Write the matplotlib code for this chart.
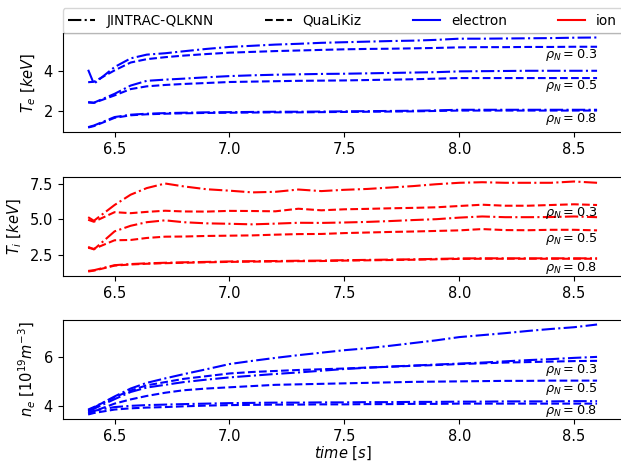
import matplotlib
matplotlib.use("Agg")
import matplotlib.pyplot as plt
from matplotlib.lines import Line2D

# ---------------- data ----------------
time = [6.385, 6.41, 6.5, 6.57, 6.64, 6.72, 6.8, 6.9, 7.0, 7.1, 7.2, 7.3, 7.4,
        7.5, 7.6, 7.7, 7.8, 7.9, 8.0, 8.1, 8.2, 8.3, 8.4, 8.5, 8.6]

rho_labels = ["0.3", "0.5", "0.8"]

# electron temperature [keV]
te_jintrac = {
    "0.3": [4.08, 3.37, 4.22, 4.66, 4.85, 4.92, 5.02, 5.14, 5.24, 5.30, 5.36, 5.40, 5.45,
            5.48, 5.51, 5.54, 5.56, 5.60, 5.66, 5.66, 5.67, 5.68, 5.69, 5.71, 5.72],
    "0.5": [2.44, 2.41, 2.86, 3.28, 3.52, 3.58, 3.63, 3.70, 3.76, 3.80, 3.83, 3.85, 3.87,
            3.88, 3.90, 3.92, 3.94, 3.96, 4.00, 4.01, 4.02, 4.03, 4.03, 4.03, 4.03],
    "0.8": [1.17, 1.25, 1.68, 1.80, 1.85, 1.88, 1.90, 1.92, 1.93, 1.94, 1.95, 1.95, 1.96,
            1.97, 1.98, 1.99, 2.00, 2.02, 2.05, 2.05, 2.05, 2.05, 2.05, 2.05, 2.05],
}
te_qualikiz = {
    "0.3": [3.45, 3.47, 4.05, 4.45, 4.62, 4.72, 4.80, 4.88, 4.95, 4.99, 5.03, 5.06, 5.09,
            5.12, 5.14, 5.15, 5.17, 5.19, 5.22, 5.23, 5.23, 5.24, 5.24, 5.25, 5.25],
    "0.5": [2.42, 2.40, 2.78, 3.10, 3.24, 3.31, 3.36, 3.41, 3.46, 3.48, 3.50, 3.52, 3.53,
            3.54, 3.56, 3.58, 3.60, 3.63, 3.66, 3.66, 3.66, 3.66, 3.66, 3.66, 3.66],
    "0.8": [1.15, 1.22, 1.64, 1.77, 1.82, 1.85, 1.87, 1.89, 1.90, 1.91, 1.92, 1.92, 1.93,
            1.94, 1.95, 1.96, 1.97, 1.99, 2.01, 2.01, 2.01, 2.01, 2.01, 2.01, 2.01],
}

# ion temperature [keV]
ti_jintrac = {
    "0.3": [5.15, 4.90, 6.00, 6.72, 7.18, 7.50, 7.30, 7.10, 7.00, 6.88, 6.92, 7.08, 6.97,
            7.06, 7.12, 7.22, 7.32, 7.45, 7.55, 7.59, 7.55, 7.55, 7.55, 7.64, 7.55],
    "0.5": [3.08, 2.90, 4.16, 4.55, 4.80, 4.93, 4.80, 4.72, 4.69, 4.65, 4.70, 4.76, 4.75,
            4.78, 4.82, 4.88, 4.95, 5.01, 5.12, 5.20, 5.15, 5.15, 5.16, 5.20, 5.15],
    "0.8": [1.40, 1.45, 1.80, 1.88, 1.93, 1.97, 2.00, 2.03, 2.06, 2.08, 2.09, 2.11, 2.12,
            2.15, 2.17, 2.19, 2.21, 2.24, 2.27, 2.28, 2.28, 2.28, 2.28, 2.28, 2.28],
}
ti_qualikiz = {
    "0.3": [4.97, 4.83, 5.50, 5.43, 5.52, 5.60, 5.55, 5.54, 5.59, 5.58, 5.56, 5.74, 5.63,
            5.70, 5.73, 5.77, 5.80, 5.84, 5.93, 6.02, 5.95, 5.95, 6.00, 6.05, 6.00],
    "0.5": [3.01, 2.94, 3.54, 3.56, 3.70, 3.79, 3.80, 3.84, 3.86, 3.88, 3.93, 3.97, 3.98,
            4.04, 4.08, 4.12, 4.15, 4.19, 4.23, 4.32, 4.25, 4.24, 4.27, 4.27, 4.23],
    "0.8": [1.36, 1.42, 1.77, 1.85, 1.90, 1.94, 1.97, 2.00, 2.03, 2.05, 2.06, 2.08, 2.09,
            2.12, 2.14, 2.16, 2.18, 2.21, 2.24, 2.25, 2.25, 2.25, 2.25, 2.25, 2.25],
}

# electron density [1e19 m^-3]
ne_jintrac = {
    "0.3": [3.84, 3.95, 4.40, 4.72, 4.95, 5.13, 5.30, 5.50, 5.71, 5.84, 5.96, 6.07, 6.17,
            6.27, 6.35, 6.45, 6.56, 6.67, 6.80, 6.88, 6.96, 7.05, 7.13, 7.20, 7.31],
    "0.5": [3.80, 3.90, 4.29, 4.58, 4.76, 4.87, 4.98, 5.08, 5.17, 5.24, 5.31, 5.37, 5.44,
            5.51, 5.56, 5.61, 5.65, 5.69, 5.73, 5.77, 5.82, 5.87, 5.91, 5.96, 6.00],
    "0.8": [3.76, 3.82, 3.97, 4.02, 4.05, 4.07, 4.09, 4.11, 4.13, 4.14, 4.15, 4.15, 4.16,
            4.16, 4.17, 4.17, 4.18, 4.18, 4.19, 4.19, 4.20, 4.20, 4.20, 4.21, 4.21],
}
ne_qualikiz = {
    "0.3": [3.87, 3.97, 4.37, 4.64, 4.85, 4.98, 5.11, 5.22, 5.33, 5.39, 5.43, 5.47, 5.50,
            5.53, 5.57, 5.60, 5.64, 5.67, 5.71, 5.74, 5.77, 5.79, 5.81, 5.83, 5.84],
    "0.5": [3.71, 3.80, 4.11, 4.28, 4.42, 4.55, 4.65, 4.72, 4.77, 4.82, 4.87, 4.89, 4.91,
            4.93, 4.95, 4.97, 4.99, 5.00, 5.01, 5.02, 5.03, 5.03, 5.04, 5.04, 5.04],
    "0.8": [3.67, 3.73, 3.87, 3.92, 3.95, 3.97, 4.00, 4.03, 4.05, 4.06, 4.07, 4.07, 4.08,
            4.08, 4.09, 4.09, 4.10, 4.10, 4.11, 4.11, 4.11, 4.11, 4.11, 4.11, 4.11],
}

# label heights (data units) for the rho annotations in each panel
label_y_te = [4.85, 3.26, 1.60]
label_y_ti = [5.43, 3.65, 1.62]
label_y_ne = [5.47, 4.69, 3.80]

ylabels = [r"$T_e\ [keV]$", r"$T_i\ [keV]$", r"$n_e\ [10^{19}m^{-3}]$"]
legend_labels = ["JINTRAC-QLKNN", "QuaLiKiz", "electron", "ion"]

# ---------------- figure ----------------
fig = plt.figure(figsize=(6.21, 4.61), dpi=100)
left = 62.7 / 621
width = (622.5 - 62.7) / 621
h = 99 / 461
bottoms = [1 - 132 / 461, 1 - 276 / 461, 1 - 419 / 461]
axes = [fig.add_axes([left, b, width, h]) for b in bottoms]

panels = [
    (te_jintrac, te_qualikiz, "blue", label_y_te),
    (ti_jintrac, ti_qualikiz, "red", label_y_ti),
    (ne_jintrac, ne_qualikiz, "blue", label_y_ne),
]

for ax, (jin, qlk, col, laby), ylab in zip(axes, panels, ylabels):
    for rho, ly in zip(rho_labels, laby):
        ax.plot(time, jin[rho], color=col, linestyle="-.", lw=1.5)
        ax.plot(time, qlk[rho], color=col, linestyle="--", lw=1.5)
        ax.text(time[-1], ly, r"$\rho_N = %s$" % rho, ha="right", va="center",
                fontsize=9.3)
    ax.set_ylabel(ylab, fontsize=10.5)
    ax.tick_params(labelsize=10.5)
    ax.set_xticks([6.5, 7.0, 7.5, 8.0, 8.5])

axes[2].set_xlabel(r"$time\ [s]$", fontsize=10.5, labelpad=0.3)

handles = [
    Line2D([], [], color="black", linestyle="-."),
    Line2D([], [], color="black", linestyle="--"),
    Line2D([], [], color="blue", linestyle="-"),
    Line2D([], [], color="red", linestyle="-"),
]
axes[0].legend(handles, legend_labels, ncol=4, loc="lower left",
               bbox_to_anchor=(0, 1.0, 1, 0.1), mode="expand",
               borderaxespad=0.0, fontsize=9.8)

fig.savefig("out.png", dpi=100)
